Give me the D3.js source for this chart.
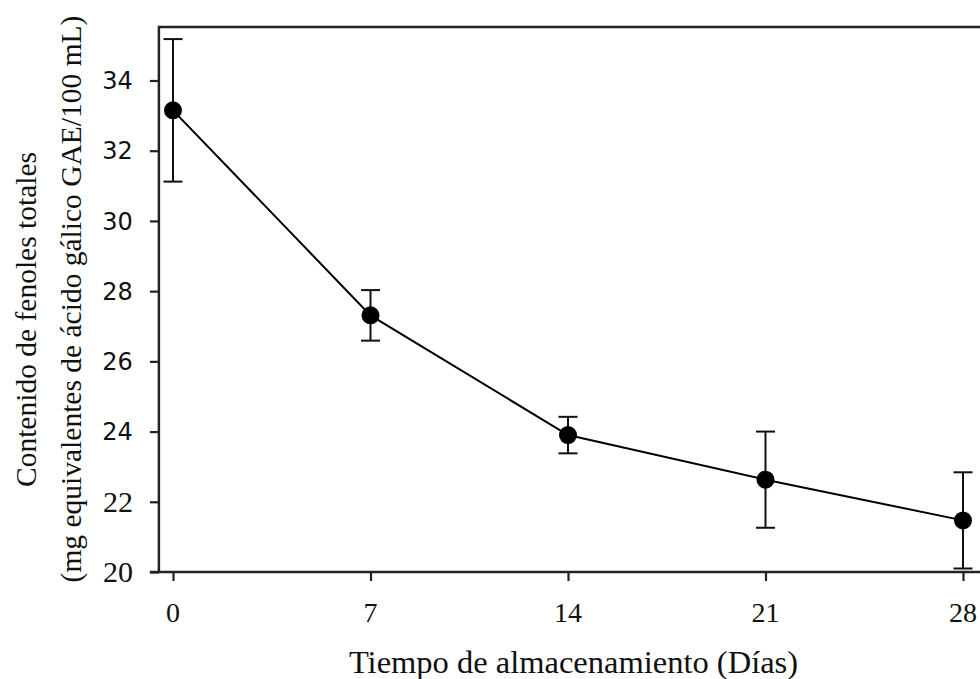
<!DOCTYPE html>
<html>
<head>
<meta charset="utf-8">
<script src="https://cdn.jsdelivr.net/npm/d3@7"></script>
<style>
  body { margin: 0; background: #fff; }
  svg { display: block; }
</style>
</head>
<body>
<svg id="grafico" width="980" height="679"></svg>
<script>
const dias = [0, 7, 14, 21, 28];
const fenoles = [33.15, 27.31, 23.90, 22.63, 21.47];
const errores = [2.03, 0.72, 0.52, 1.37, 1.37];
const yTicks = [20, 22, 24, 26, 28, 30, 32, 34];

const svg = d3.select("#grafico");

const x = d3.scaleLinear().domain([0, 28]).range([173, 963]);
const y = d3.scaleLinear().domain([20, 34]).range([572, 80.5]);

const izq = x(-0.5);
const abajo = y(20);
const arriba = 27;
const serif = "Liberation Serif";
const sans = "DejaVu Sans";

// marco
svg.append("path")
  .attr("d", `M${izq},${abajo}V${arriba}H${990}`)
  .attr("fill", "none")
  .attr("stroke", "#222")
  .attr("stroke-width", 2.5);

// eje y (solo marcas)
const ejeY = svg.append("g")
  .attr("transform", `translate(${izq},0)`)
  .call(d3.axisLeft(y).tickValues(yTicks).tickSize(9).tickFormat(""));
ejeY.select(".domain").remove();
ejeY.selectAll("line").attr("stroke", "#222").attr("stroke-width", 2.2);

svg.append("g").selectAll("text")
  .data(yTicks)
  .join("text")
  .attr("x", izq - 26)
  .attr("y", d => y(d))
  .attr("dy", d => d <= 22 ? "0.33em" : "0.36em")
  .attr("text-anchor", "end")
  .attr("fill", "#111")
  .attr("font-family", d => d <= 22 ? serif : sans)
  .attr("font-size", d => d <= 22 ? 30 : 24)
  .text(d => d);

// eje x
const ejeX = svg.append("g")
  .attr("transform", `translate(0,${abajo})`)
  .call(d3.axisBottom(x).tickValues(dias).tickSize(9).tickFormat(""));
ejeX.select(".domain").remove();
ejeX.selectAll("line").attr("stroke", "#222").attr("stroke-width", 2.2);

svg.append("g").selectAll("text")
  .data(dias)
  .join("text")
  .attr("x", d => x(d))
  .attr("y", abajo + 50)
  .attr("text-anchor", "middle")
  .attr("fill", "#111")
  .attr("font-family", serif)
  .attr("font-size", 28)
  .text(d => d);

svg.append("line")
  .attr("x1", izq - 9).attr("x2", 990)
  .attr("y1", abajo).attr("y2", abajo)
  .attr("stroke", "#222").attr("stroke-width", 2.5);

// titulos
svg.append("text")
  .attr("x", 573.5)
  .attr("y", 673)
  .attr("text-anchor", "middle")
  .attr("font-family", serif)
  .attr("font-size", 32.5)
  .attr("fill", "#111")
  .text("Tiempo de almacenamiento (Días)");

svg.append("text")
  .attr("transform", "translate(36,319.5) rotate(-90)")
  .attr("text-anchor", "middle")
  .attr("font-family", serif)
  .attr("font-size", 29.5)
  .attr("fill", "#111")
  .text("Contenido de fenoles totales");
svg.append("text")
  .attr("transform", "translate(81,299) rotate(-90)")
  .attr("text-anchor", "middle")
  .attr("font-family", serif)
  .attr("font-size", 29.5)
  .attr("fill", "#111")
  .text("(mg equivalentes de ácido gálico GAE/100 mL)");

const datos = dias.map((d, i) => ({ dia: d, valor: fenoles[i], err: errores[i] }));

// linea
svg.append("path")
  .datum(datos)
  .attr("fill", "none")
  .attr("stroke", "#000")
  .attr("stroke-width", 2)
  .attr("d", d3.line().x(d => x(d.dia)).y(d => y(d.valor)));

// barras de error
const eb = svg.append("g").attr("stroke", "#111").attr("stroke-width", 2);
eb.selectAll(".v").data(datos).join("line")
  .attr("x1", d => x(d.dia)).attr("x2", d => x(d.dia))
  .attr("y1", d => y(d.valor + d.err)).attr("y2", d => y(d.valor - d.err));
eb.selectAll(".t").data(datos).join("line")
  .attr("x1", d => x(d.dia) - 9.5).attr("x2", d => x(d.dia) + 9.5)
  .attr("y1", d => y(d.valor + d.err)).attr("y2", d => y(d.valor + d.err));
eb.selectAll(".b").data(datos).join("line")
  .attr("x1", d => x(d.dia) - 9.5).attr("x2", d => x(d.dia) + 9.5)
  .attr("y1", d => y(d.valor - d.err)).attr("y2", d => y(d.valor - d.err));

// puntos
svg.selectAll("circle")
  .data(datos)
  .join("circle")
  .attr("cx", d => x(d.dia))
  .attr("cy", d => y(d.valor))
  .attr("r", 9)
  .attr("fill", "#000");
</script>
</body>
</html>
